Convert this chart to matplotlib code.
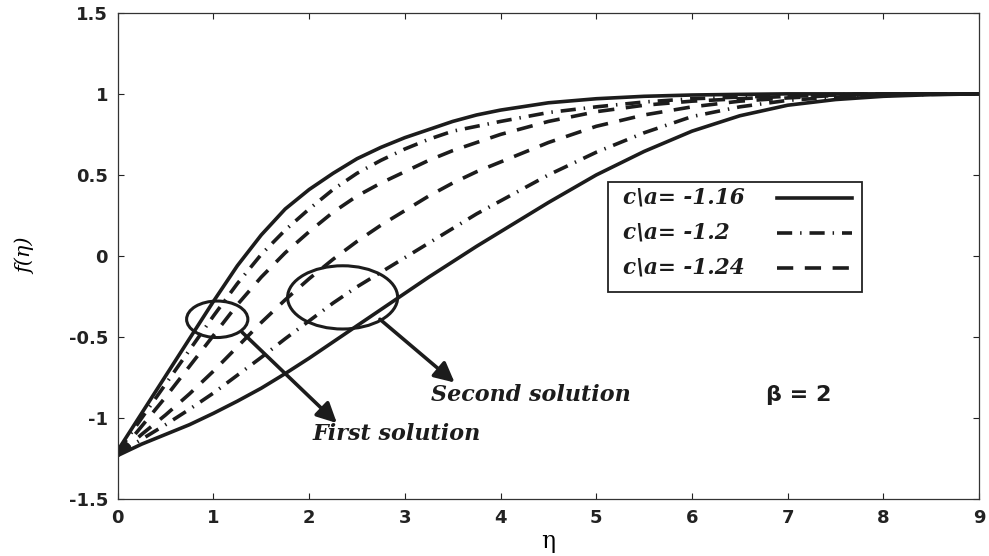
import numpy as np
import matplotlib.pyplot as plt
from matplotlib.patches import Ellipse, Rectangle

# eta grid and curves
eta = [0, 0.25, 0.5, 0.75, 1, 1.25, 1.5, 1.75, 2, 2.25, 2.5, 2.75, 3, 3.25,
       3.5, 3.75, 4, 4.5, 5, 5.5, 6, 6.5, 7, 7.5, 8, 8.5, 9]

# first solution
f1_116 = [-1.2, -0.97, -0.74, -0.51, -0.28, -0.06, 0.13, 0.29, 0.41, 0.51, 0.6, 0.67, 0.73, 0.78,
          0.83, 0.87, 0.9, 0.945, 0.97, 0.985, 0.993, 0.997, 1.0, 1.0, 1.0, 1.0, 1.0]
f1_120 = [-1.21, -1.0, -0.79, -0.58, -0.37, -0.17, 0.01, 0.16, 0.29, 0.41, 0.51, 0.59, 0.66, 0.72,
          0.77, 0.8, 0.83, 0.885, 0.92, 0.95, 0.97, 0.98, 0.99, 0.995, 1.0, 1.0, 1.0]
f1_124 = [-1.23, -1.05, -0.87, -0.68, -0.49, -0.3, -0.13, 0.02, 0.15, 0.27, 0.37, 0.45, 0.52, 0.59,
          0.65, 0.7, 0.75, 0.83, 0.89, 0.93, 0.955, 0.97, 0.985, 0.993, 1.0, 1.0, 1.0]
# second solution
f2_124 = [-1.23, -1.1, -0.98, -0.85, -0.71, -0.56, -0.41, -0.27, -0.14, -0.02, 0.09, 0.19, 0.28, 0.37,
          0.45, 0.52, 0.58, 0.7, 0.8, 0.87, 0.92, 0.955, 0.975, 0.99, 0.996, 1.0, 1.0]
f2_120 = [-1.22, -1.13, -1.04, -0.945, -0.845, -0.735, -0.625, -0.51, -0.4, -0.29, -0.19, -0.1, -0.01, 0.08,
          0.17, 0.26, 0.34, 0.5, 0.64, 0.76, 0.86, 0.92, 0.96, 0.98, 0.99, 0.997, 1.0]
f2_116 = [-1.23, -1.16, -1.1, -1.04, -0.97, -0.895, -0.815, -0.725, -0.63, -0.53, -0.43, -0.33, -0.23, -0.13,
          -0.035, 0.06, 0.15, 0.33, 0.5, 0.645, 0.77, 0.865, 0.93, 0.965, 0.985, 0.995, 1.0]

legend_labels = [r"c\a= -1.16", r"c\a= -1.2", r"c\a= -1.24"]

xticks = [0, 1, 2, 3, 4, 5, 6, 7, 8, 9]
yticks = [-1.5, -1, -0.5, 0, 0.5, 1, 1.5]
ytick_labels = ["-1.5", "-1", "-0.5", "0", "0.5", "1", "1.5"]

col = "#1c1c1c"
lw = 2.6
solid = "-"
dashdot = (0, (4.2, 2.2, 0.4, 2.2))
dashed = (0, (4.5, 3.2))
styles = [solid, dashdot, dashed]
serif_bi = dict(family="DejaVu Serif", style="italic", weight="bold")

fig = plt.figure(figsize=(9.89, 5.56), dpi=100)
ax = fig.add_axes([0.119, 0.102, 0.871, 0.875])

for y, ls in zip([f1_116, f1_120, f1_124], styles):
    ax.plot(eta, y, color=col, lw=lw, ls=ls)
for y, ls in zip([f2_116, f2_120, f2_124], styles):
    ax.plot(eta, y, color=col, lw=lw, ls=ls)

ax.set_xlim(0, 9)
ax.set_ylim(-1.5, 1.5)
ax.set_xticks(xticks)
ax.set_xticklabels([str(v) for v in xticks])
ax.set_yticks(yticks)
ax.set_yticklabels(ytick_labels)
ax.tick_params(direction="in", length=4, width=0.8, top=True, right=True,
               labelsize=13, pad=7, colors="#222222")
for lab in ax.get_xticklabels() + ax.get_yticklabels():
    lab.set_fontweight("bold")
for s in ax.spines.values():
    s.set_linewidth(0.9)
    s.set_color("#333333")

ax.set_xlabel("η", fontsize=17, family="DejaVu Serif", labelpad=2)
ax.set_ylabel("f(η)", fontsize=15, family="DejaVu Serif", style="italic", labelpad=24)

# ellipses marking the two branches
ax.add_patch(Ellipse((1.04, -0.39), 0.64, 0.225, fill=False, ec=col, lw=2.2))
ax.add_patch(Ellipse((2.35, -0.255), 1.15, 0.39, fill=False, ec=col, lw=2.2))

ax.annotate("", xy=(2.29, -1.03), xytext=(1.3, -0.47),
            arrowprops=dict(arrowstyle="-|>", color=col, lw=2.6, mutation_scale=30,
                            shrinkA=0, shrinkB=0))
ax.annotate("", xy=(3.52, -0.78), xytext=(2.74, -0.39),
            arrowprops=dict(arrowstyle="-|>", color=col, lw=2.6, mutation_scale=30,
                            shrinkA=0, shrinkB=0))

ax.text(3.27, -0.855, "Second solution", fontsize=16, color=col, va="center", ha="left", **serif_bi)
ax.text(2.04, -1.095, "First solution", fontsize=16, color=col, va="center", ha="left", **serif_bi)
ax.text(6.77, -0.855, "β = 2", fontsize=16, family="DejaVu Sans", weight="bold",
        color=col, va="center", ha="left")

# legend box, text left, line sample right
tr = ax.transAxes
ax.add_patch(Rectangle((0.569, 0.427), 0.295, 0.226, transform=tr, fill=True, fc="white",
                       ec="#222222", lw=1.3, zorder=5))
for i, (lab, ls) in enumerate(zip(legend_labels, styles)):
    yy = 0.62 - i * 0.072
    ax.text(0.587, yy, lab, transform=tr, fontsize=15.5, color=col, va="center",
            ha="left", zorder=6, **serif_bi)
    ax.plot([0.765, 0.852], [yy, yy], transform=tr, color=col, lw=lw, ls=ls, zorder=6)

fig.savefig("out.png", dpi=100)
